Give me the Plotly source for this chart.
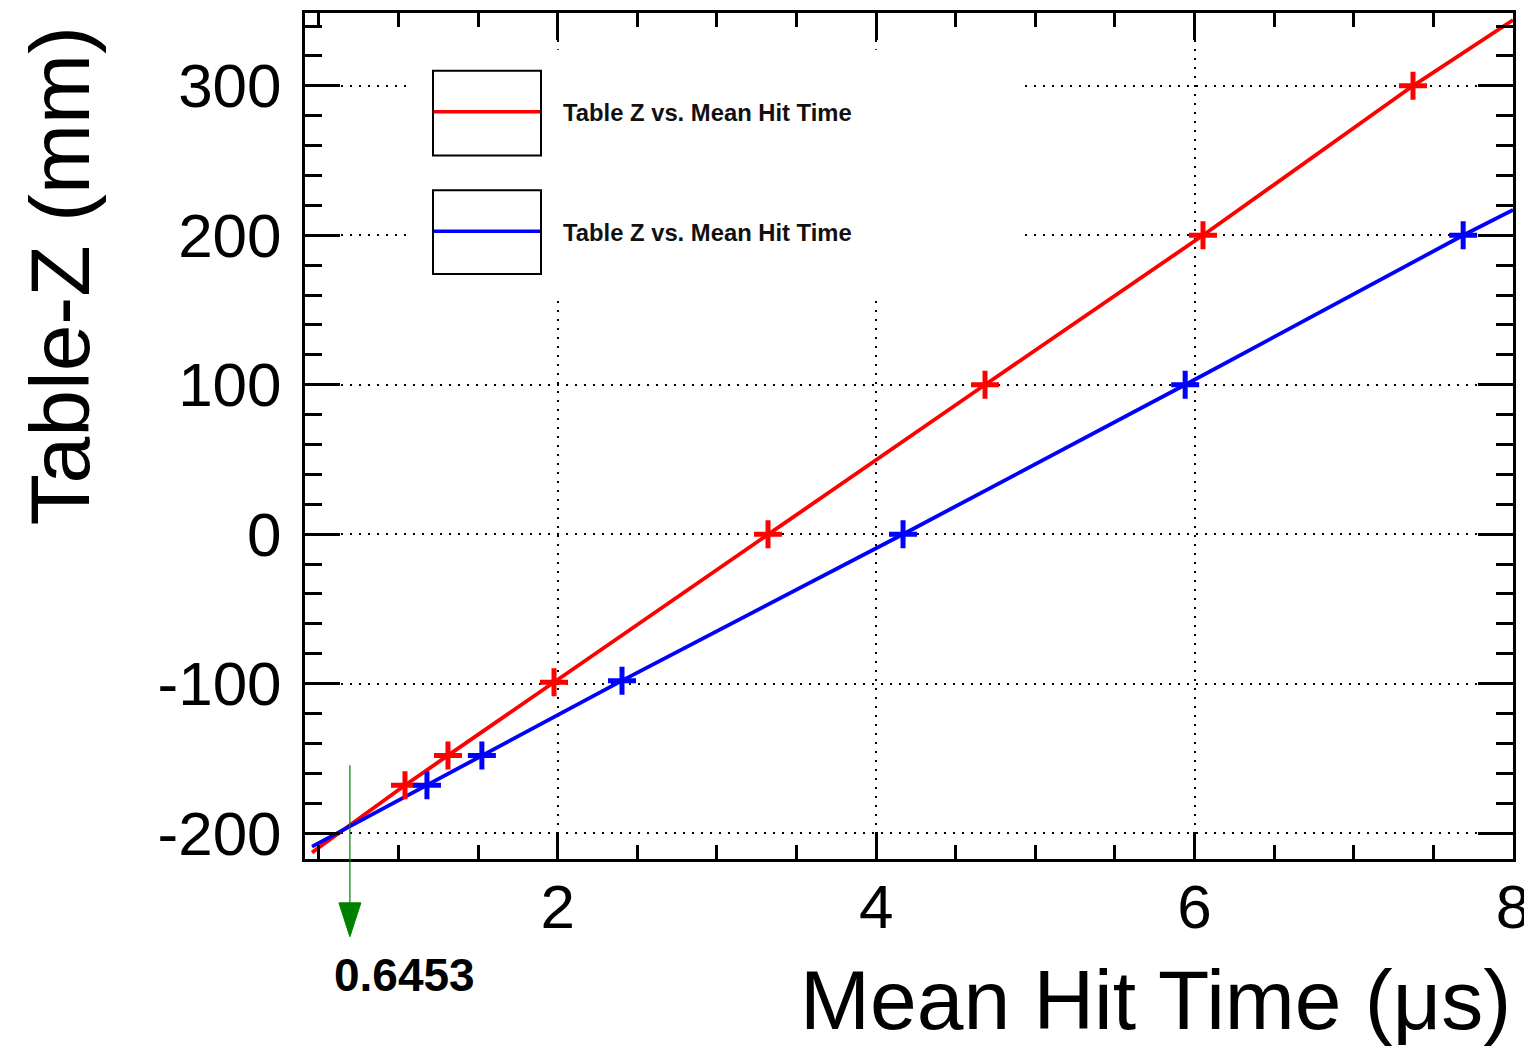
import plotly.graph_objects as go

# ---------------- data ----------------
red_x = [1.041, 1.311, 1.977, 3.321, 4.684, 6.053, 7.372]
red_y = [-168, -148, -99, 0, 100, 200, 300]
blue_x = [1.179, 1.524, 2.404, 4.169, 5.941, 7.687]
blue_y = [-168, -148, -98, 0, 100, 200]

# line (fit) curves drawn through the measured points
red_line_x = [0.457, 1.041, 1.311, 1.977, 3.321, 4.684, 6.053, 7.372, 8.0]
red_line_y = [-213, -168, -148, -99, 0, 100, 200, 300, 344]
blue_line_x = [0.457, 1.179, 1.524, 2.404, 4.169, 5.941, 7.687, 8.0]
blue_line_y = [-209, -168, -148, -98, 0, 100, 200, 217]

x_ticks = [2, 4, 6, 8]
x_tick_labels = ["2", "4", "6", "8"]
y_ticks = [-200, -100, 0, 100, 200, 300]
y_tick_labels = ["-200", "-100", "0", "100", "200", "300"]

legend_labels = ["Table Z vs. Mean Hit Time", "Table Z vs. Mean Hit Time"]
crossing_x = 0.695
crossing_label = "0.6453"

x_range = [0.413, 8.0]
y_range = [-217.3, 348.7]

# ---------------- layout geometry ----------------
OFF = 8                      # page body margin
W, H = 1532 - OFF, 1049 - OFF
L, R, T, B = 297, 19, 2, 190
PW, PH = W - L - R, H - T - B
FONT = "Liberation Sans, Arial, Helvetica, sans-serif"


def px(xp):
    """screenshot pixel x -> paper"""
    return (xp - OFF - L) / PW


def py(yp):
    """screenshot pixel y -> paper"""
    return (OFF + T + PH - yp) / PH


fig = go.Figure()

fig.add_trace(go.Scatter(x=red_line_x, y=red_line_y, mode="lines",
                         line=dict(color="#ff0000", width=3.8), showlegend=False))
fig.add_trace(go.Scatter(x=blue_line_x, y=blue_line_y, mode="lines",
                         line=dict(color="#0000ff", width=3.8), showlegend=False))
fig.add_trace(go.Scatter(x=red_x, y=red_y, mode="markers",
                         marker=dict(symbol="cross-thin", size=20,
                                     line=dict(color="#ff0000", width=5)),
                         showlegend=False))
fig.add_trace(go.Scatter(x=blue_x, y=blue_y, mode="markers",
                         marker=dict(symbol="cross-thin", size=20,
                                     line=dict(color="#0000ff", width=5)),
                         showlegend=False))

shapes = []
# white legend backdrop (hides grid)
shapes.append(dict(type="rect", xref="paper", yref="paper", layer="above",
                   x0=px(410), x1=px(1020), y0=py(293), y1=py(47),
                   fillcolor="white", line=dict(width=0)))
# legend boxes and samples
for (top, bot, ly, col) in [(68, 153, 109, "#ff0000"), (188, 272, 229, "#0000ff")]:
    shapes.append(dict(type="rect", xref="paper", yref="paper", layer="above",
                       x0=px(433), x1=px(541), y0=py(bot), y1=py(top),
                       line=dict(color="black", width=2), fillcolor="rgba(0,0,0,0)"))
    shapes.append(dict(type="line", xref="paper", yref="paper", layer="above",
                       x0=px(434), x1=px(540), y0=py(ly), y1=py(ly),
                       line=dict(color=col, width=3.5)))

# green arrow
arrow_px = OFF + L + (crossing_x - x_range[0]) / (x_range[1] - x_range[0]) * PW
shapes.append(dict(type="line", xref="x", yref="paper", layer="above",
                   x0=crossing_x, x1=crossing_x, y0=py(765), y1=py(905),
                   line=dict(color="#008000", width=1.2)))
shapes.append(dict(type="path", xref="paper", yref="paper", layer="above",
                   path=f"M {px(arrow_px - 11)},{py(903)} L {px(arrow_px + 11)},{py(903)} "
                        f"L {px(arrow_px)},{py(937)} Z",
                   fillcolor="#008000", line=dict(color="#008000", width=1)))

annotations = []
for lbl, yy in zip(legend_labels, [110, 230]):
    annotations.append(dict(text=f"<b>{lbl}</b>", xref="paper", yref="paper",
                            x=px(561), y=py(yy), xanchor="left", yanchor="middle",
                            showarrow=False, font=dict(family=FONT, size=23.8, color="#111111")))
annotations.append(dict(text=f"<b>{crossing_label}</b>", xref="paper", yref="paper",
                        x=px(404), y=py(975), xanchor="center", yanchor="middle",
                        showarrow=False, font=dict(family=FONT, size=46, color="black")))
annotations.append(dict(text="Mean Hit Time (μs)", xref="paper", yref="paper",
                        x=1.0, y=py(1000), xanchor="right", yanchor="middle",
                        showarrow=False, font=dict(family=FONT, size=84, color="black")))
annotations.append(dict(text="Table-Z (mm)", xref="paper", yref="paper",
                        x=px(60), y=py(22), xanchor="center", yanchor="top",
                        textangle=-90, showarrow=False,
                        font=dict(family=FONT, size=84, color="black")))

axis_common = dict(showline=True, linecolor="black", linewidth=3, mirror="ticks",
                   ticks="inside", tickcolor="black", tickwidth=3,
                   showgrid=True, gridcolor="black", gridwidth=2, griddash="2px,7px",
                   zeroline=False, tickfont=dict(family=FONT, size=62, color="black"))

fig.update_layout(
    width=W, height=H, margin=dict(l=L, r=R, t=T, b=B),
    paper_bgcolor="white", plot_bgcolor="white", showlegend=False,
    shapes=shapes, annotations=annotations,
    xaxis=dict(range=x_range, tickmode="array", tickvals=x_ticks, ticktext=x_tick_labels,
               ticklen=27,
               minor=dict(tickmode="linear", tick0=0, dtick=0.5, ticklen=14, tickwidth=3,
                          tickcolor="black", ticks="inside", showgrid=False),
               ticklabelstandoff=-8, **axis_common),
    yaxis=dict(range=y_range, tickmode="array", tickvals=y_ticks, ticktext=y_tick_labels,
               ticklen=35,
               minor=dict(tickmode="linear", tick0=0, dtick=20, ticklen=17, tickwidth=3,
                          tickcolor="black", ticks="inside", showgrid=False),
               ticklabelstandoff=8, **axis_common),
)

fig.write_html("out.html")
